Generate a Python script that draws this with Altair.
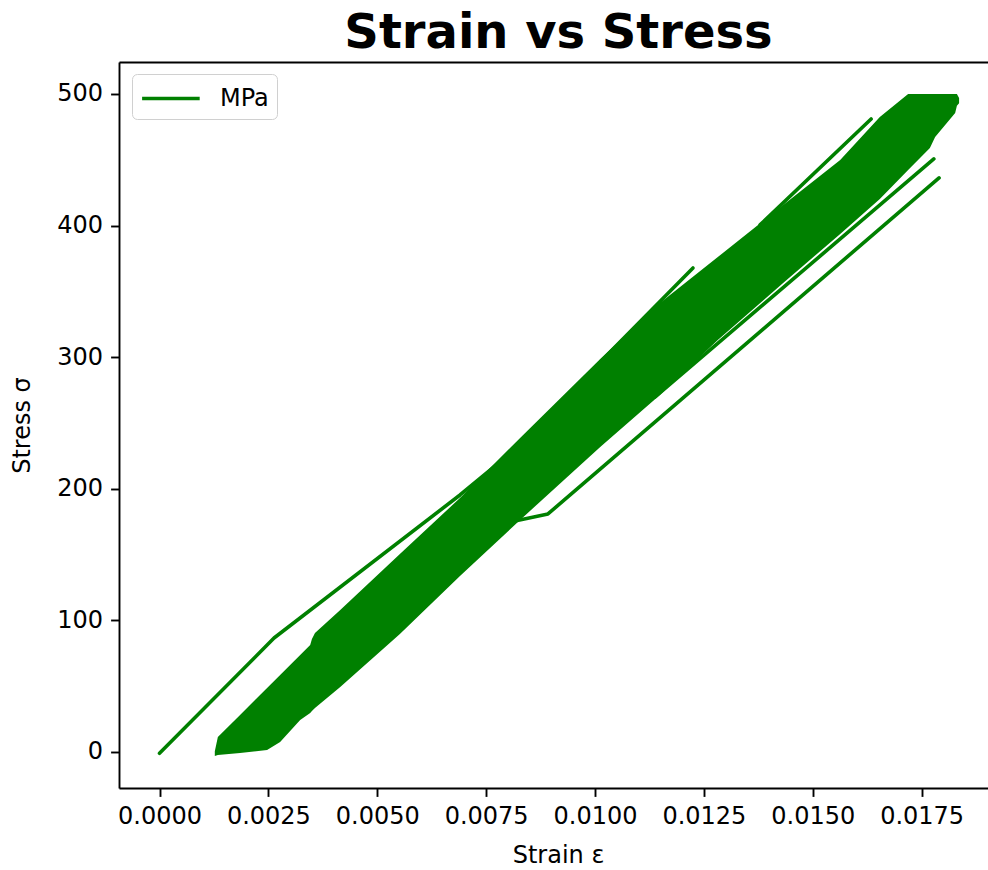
import altair as alt
import pandas as pd

GREEN = "#008000"
FONT = "DejaVu Sans"

# Envelope of the densely cycled part of the record (strain, upper / lower stress)
band_strain = [0.00127, 0.00134, 0.00185, 0.00247, 0.00277, 0.00323, 0.00346, 0.00350,
               0.00357, 0.00415, 0.00552, 0.00690, 0.00828, 0.01012, 0.01149, 0.01282,
               0.01432, 0.01563, 0.01654, 0.01719, 0.01769, 0.01781, 0.01804, 0.01827,
               0.01831, 0.01836]
band_upper = [0.5, 11.4, 28.1, 48.6, 58.5, 73.7, 81.3, 85.9,
              90.4, 107.9, 150.5, 193.0, 238.6, 298.6, 341.2, 376.1,
              415.7, 449.8, 482.5, 500.0, 500.0, 500.0, 500.0, 500.0,
              500.0, 497.0]
band_lower = [-3.0, -2.3, -0.8, 1.5, 7.6, 24.3, 29.6, 31.2,
              33.4, 49.4, 89.7, 133.7, 176.3, 231.8, 271.3, 313.1,
              356.4, 393.6, 420.2, 442.2, 459.0, 467.3, 476.4, 485.6,
              491.0, 493.0]

# Excursions of the same record that leave the dense band
loading_strain = [0.0, 0.00263, 0.00690, 0.00782]
loading_stress = [-1.0, 86.6, 195.3, 220.4]

low_branch_strain = [0.00805, 0.00892, 0.01790]
low_branch_stress = [174.8, 180.9, 436.2]

lower_edge_strain = [0.01138, 0.01778]
lower_edge_stress = [269.8, 450.6]

upper_a_strain = [0.01012, 0.01225]
upper_a_stress = [296.4, 367.8]

upper_b_strain = [0.01379, 0.01634]
upper_b_stress = [400.5, 481.0]

x_ticks = [0.0, 0.0025, 0.005, 0.0075, 0.01, 0.0125, 0.015, 0.0175]
y_ticks = [0, 100, 200, 300, 400, 500]

band_df = pd.DataFrame({"strain": band_strain, "upper": band_upper, "lower": band_lower})

segments = [
    ("loading", loading_strain, loading_stress),
    ("low_branch", low_branch_strain, low_branch_stress),
    ("lower_edge", lower_edge_strain, lower_edge_stress),
    ("upper_a", upper_a_strain, upper_a_stress),
    ("upper_b", upper_b_strain, upper_b_stress),
]
rows = []
for name, xs, ys in segments:
    for i, (sx, sy) in enumerate(zip(xs, ys)):
        rows.append({"segment": name, "idx": i, "strain": sx, "stress": sy, "series": "MPa"})
lines_df = pd.DataFrame(rows)

W, H = 869, 726
x_scale = alt.Scale(domain=[-0.00093, 0.019024], nice=False, zero=False)
y_scale = alt.Scale(domain=[-27.36, 524.3], nice=False, zero=False)

axis_style = dict(
    grid=False, labelFont=FONT, labelFontSize=24, labelColor="black",
    tickColor="black", tickSize=8.4, tickWidth=1.9, labelPadding=8,
    domainColor="black", domainWidth=1.9, titleFont=FONT, titleFontSize=24,
    titleFontWeight="normal", titleColor="black",
)

bottom_axis = alt.Axis(
    orient="bottom", values=x_ticks, format=".4f", title="Strain ε",
    labelOverlap=False, labelFlush=False, titleX=439, titleY=67,
    titleAlign="center", titleBaseline="middle", **axis_style,
)
left_axis = alt.Axis(
    orient="left", values=y_ticks, format="d", title="Stress σ",
    titleX=-97, titleY=363, titleAngle=270, titleAlign="center",
    titleBaseline="middle", **axis_style,
)
# Top spine of the frame; it also carries the chart heading
top_frame = alt.Axis(
    orient="top", labels=False, ticks=False, grid=False,
    domainColor="black", domainWidth=1.9,
    title="Strain vs Stress", titleFont=FONT, titleFontSize=48,
    titleFontWeight="bold", titleColor="black", titleX=439, titleY=-15,
    titleAlign="center", titleBaseline="alphabetic", titleAngle=0,
)

band = alt.Chart(band_df).mark_area(color=GREEN, opacity=1).encode(
    x=alt.X("strain:Q", scale=x_scale, axis=bottom_axis),
    y=alt.Y("upper:Q", scale=y_scale, axis=left_axis),
    y2="lower:Q",
)

lines = alt.Chart(lines_df).mark_line(strokeWidth=3.6, strokeCap="round", strokeJoin="round").encode(
    x=alt.X("strain:Q", scale=x_scale, axis=top_frame),
    y=alt.Y("stress:Q", scale=y_scale, axis=None),
    detail="segment:N",
    order="idx:Q",
    color=alt.Color(
        "series:N",
        scale=alt.Scale(domain=["MPa"], range=[GREEN]),
        legend=alt.Legend(
            title=None, orient="none", legendX=13, legendY=12,
            symbolType="M-1,0H3", symbolSize=829, symbolStrokeWidth=3.6,
            symbolStrokeColor=GREEN, symbolFillColor="transparent",
            labelFont=FONT, labelFontSize=24, labelColor="black",
            labelOffset=47, padding=8, strokeColor="#d0d0d0",
            cornerRadius=5, fillColor="white",
        ),
    ),
)

chart = (
    alt.layer(band, lines)
    .resolve_axis(x="independent", y="independent")
    .properties(
        width=W,
        height=H,
        autosize=alt.AutoSizeParams(type="none"),
        padding={"left": 119, "top": 62, "right": 0, "bottom": 82},
    )
    .configure_view(stroke=None)
    .configure_legend(strokeWidth=2)
    .configure(background="white")
)

chart.save("out.html", embed_options={"renderer": "svg", "actions": False})
